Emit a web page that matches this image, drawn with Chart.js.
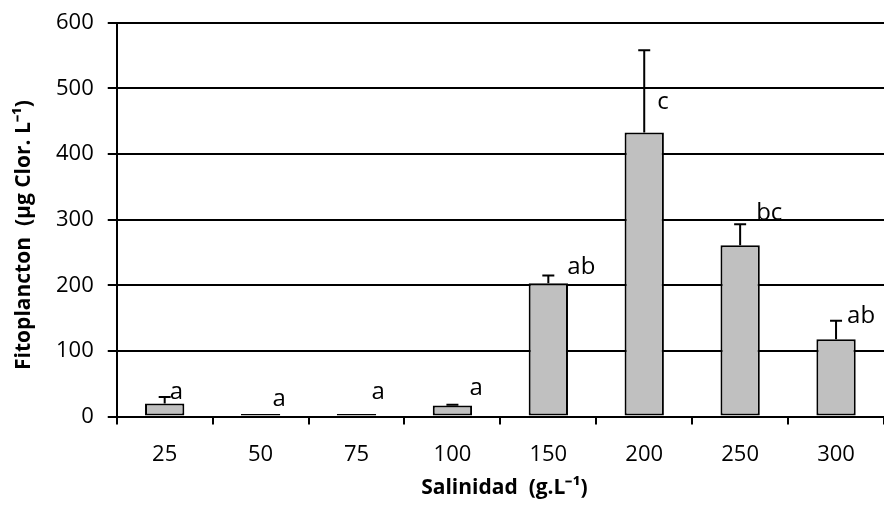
<!DOCTYPE html>
<html><head><meta charset="utf-8">
<script src="https://cdn.jsdelivr.net/npm/chart.js@4/dist/chart.umd.min.js"></script>
<style>html,body{margin:0;padding:0;background:#fff}#wrap{width:884px;height:505px}</style>
</head><body><div id="wrap"><canvas id="c" width="884" height="505"></canvas></div>
<script>
const categories = ['25','50','75','100','150','200','250','300'];
const means = [20, 4, 4, 17, 203, 433, 261, 118];
const errors = [10, 0, 0, 1, 12, 125, 32, 28];
const letters = ['a','a','a','a','ab','c','bc','ab'];
const yTicks = [0,100,200,300,400,500,600];
const yTitle = 'Fitoplancton  (µg Clor. L⁻¹)';
const xTitle = 'Salinidad  (g.L⁻¹)';

const FONT = "'Open Sans', sans-serif";
const letterNudge = [[5,-5],[12,-15],[15,-22],[17,-17],[19,-8],[13,-30],[16,-11],[11,-5]];

const errPlugin = {
  id: 'errbars',
  afterDatasetsDraw(chart) {
    const ctx = chart.ctx, x = chart.scales.x, y = chart.scales.y, ca = chart.chartArea;
    ctx.save();
    ctx.strokeStyle = '#000'; ctx.lineWidth = 2;
    means.forEach((m, i) => {
      if (!errors[i]) return;
      const cx = x.getPixelForValue(i);
      const y0 = y.getPixelForValue(m), y1 = y.getPixelForValue(m + errors[i]);
      ctx.beginPath();
      ctx.moveTo(cx, y0); ctx.lineTo(cx, y1);
      ctx.moveTo(cx - 6, y1); ctx.lineTo(cx + 6, y1);
      ctx.stroke();
    });
    ctx.fillStyle = '#000';
    ctx.font = "24px " + FONT;
    ctx.textAlign = 'left'; ctx.textBaseline = 'middle';
    letters.forEach((t, i) => {
      const cx = x.getPixelForValue(i);
      const anchor = i === 5 ? y.getPixelForValue(means[i]) : y.getPixelForValue(means[i] + errors[i]);
      ctx.fillText(t, cx + letterNudge[i][0], anchor + letterNudge[i][1]);
    });
    // axis titles
    ctx.textAlign = 'center'; ctx.textBaseline = 'middle';
    ctx.font = "bold 21px " + FONT;
    ctx.fillText(xTitle, (ca.left + ca.right) / 2 + 4, 488);
    ctx.save();
    ctx.translate(24, 235);
    ctx.rotate(-Math.PI / 2);
    ctx.fillText(yTitle, 0, 0);
    ctx.restore();
    ctx.restore();
  }
};

new Chart(document.getElementById('c'), {
  type: 'bar',
  data: {
    labels: categories,
    datasets: [{
      data: means,
      backgroundColor: '#c0c0c0',
      borderColor: '#000',
      borderWidth: 2,
      borderSkipped: false,
      barPercentage: 0.41,
      categoryPercentage: 1.0
    }]
  },
  options: {
    responsive: false,
    animation: false,
    layout: { padding: { top: 22, right: 0, left: 42, bottom: 20 } },
    plugins: { legend: { display: false }, tooltip: { enabled: false } },
    scales: {
      x: {
        grid: { display: true, offset: true, drawOnChartArea: false, drawTicks: true, tickLength: 8, color: '#000', lineWidth: 2 },
        border: { display: true, color: '#000', width: 2 },
        ticks: { color: '#000', font: { family: FONT, size: 22 }, padding: 17 },
        title: { display: false }
      },
      y: {
        min: 0, max: 600,
        afterBuildTicks(s) { s.ticks = yTicks.map(v => ({ value: v })); },
        grid: { color: '#000', lineWidth: 2, drawTicks: true, tickLength: 9 },
        border: { display: true, color: '#000', width: 2 },
        ticks: { color: '#000', font: { family: FONT, size: 22, lineHeight: 0.8 }, padding: 14 },
        title: { display: false }
      }
    }
  },
  plugins: [errPlugin]
});
</script>
</body></html>
